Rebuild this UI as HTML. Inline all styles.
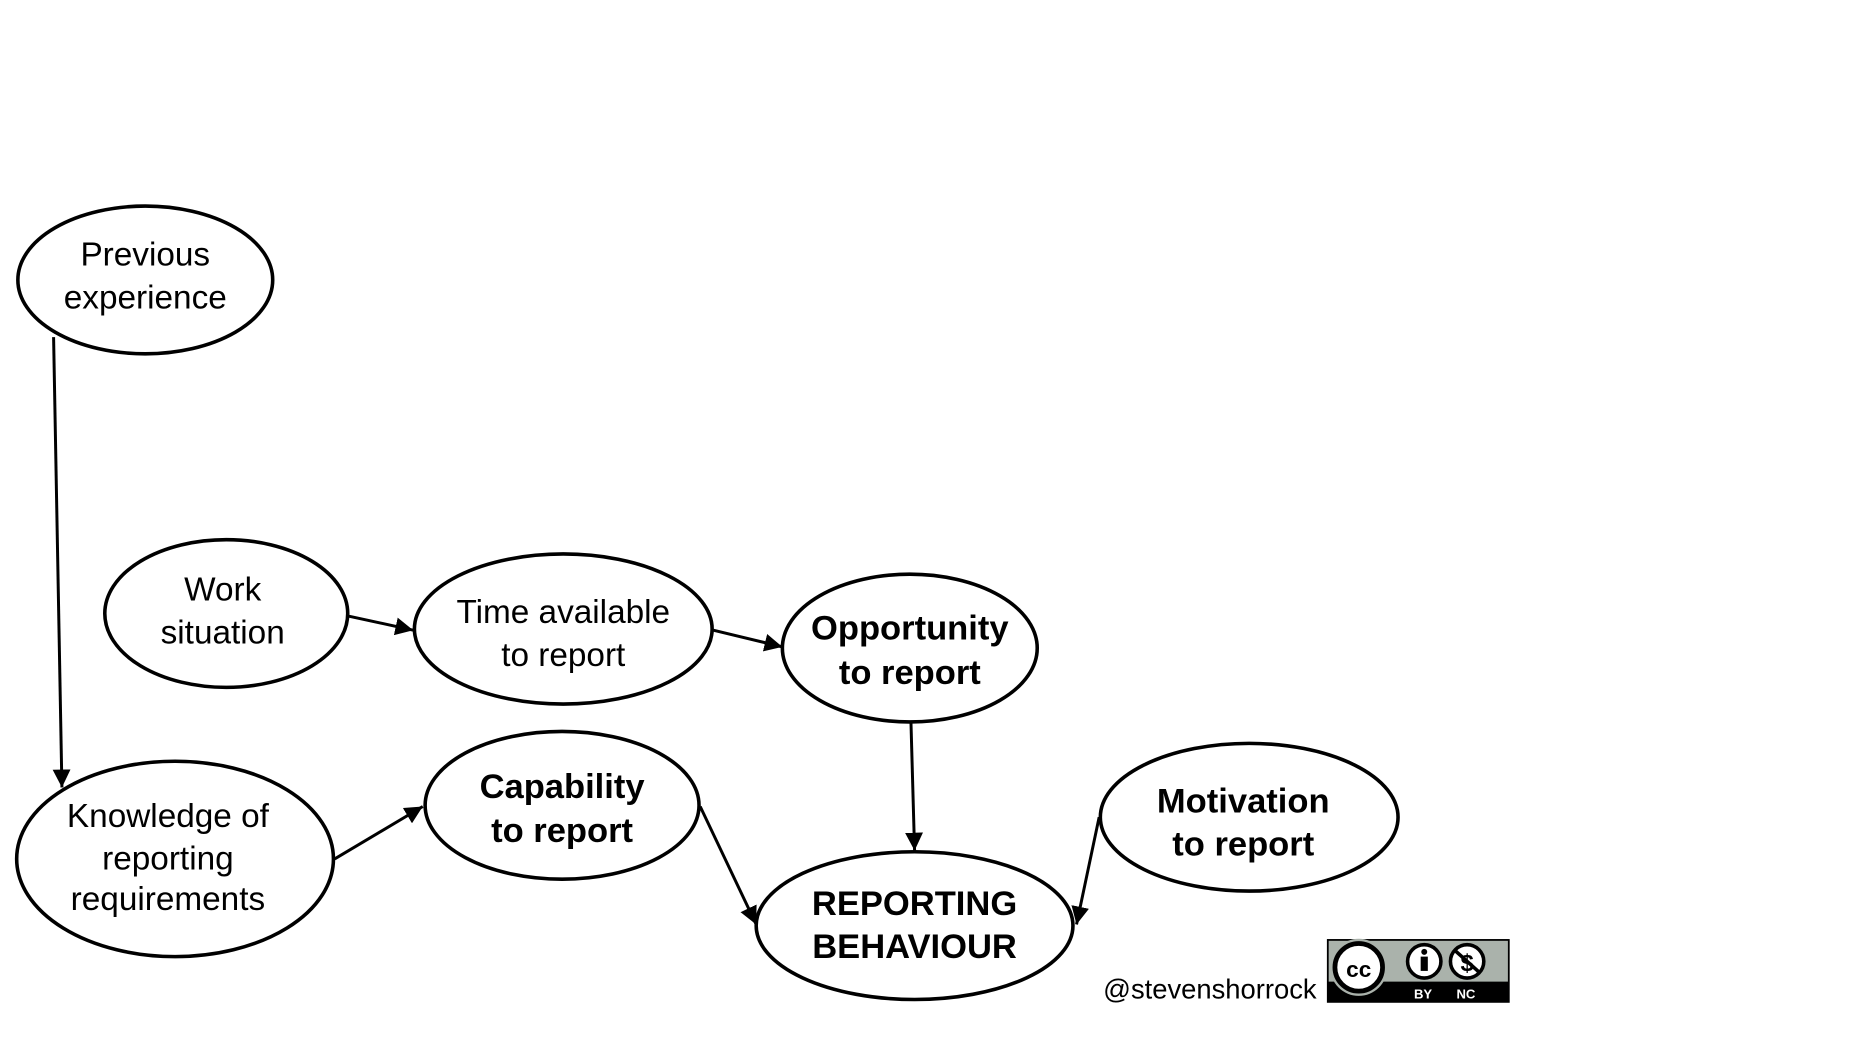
<!DOCTYPE html>
<html><head><meta charset="utf-8"><style>
html,body{margin:0;padding:0;background:#fff;width:1872px;height:1040px;overflow:hidden}
svg{display:block}
text{font-family:"Liberation Sans",Arial,sans-serif;fill:#000}
</style></head><body>
<svg width="1872" height="1040" viewBox="0 0 1572 873" preserveAspectRatio="none" xmlns="http://www.w3.org/2000/svg">
<defs><marker id="a" viewBox="0 0 10 10" refX="10" refY="5" markerWidth="6" markerHeight="6" orient="auto" markerUnits="strokeWidth"><path d="M0,0 L10,5 L0,10 z" fill="#000"/></marker></defs>
<g transform="translate(2,1)">
<g fill="#fff" stroke="#000" stroke-width="3">
<ellipse cx="120" cy="234" rx="107" ry="62"/>
<ellipse cx="188" cy="514" rx="102" ry="62"/>
<ellipse cx="471" cy="527" rx="125" ry="63"/>
<ellipse cx="762" cy="543" rx="107" ry="62"/>
<ellipse cx="145" cy="720" rx="133" ry="82"/>
<ellipse cx="470" cy="675" rx="115" ry="62"/>
<ellipse cx="766" cy="776" rx="133" ry="62"/>
<ellipse cx="1047" cy="685" rx="125" ry="62"/>
</g>
<g stroke="#000" stroke-width="2.5" marker-end="url(#a)">
<line x1="43" y1="282" x2="50" y2="660"/>
<line x1="290" y1="516" x2="345" y2="528"/>
<line x1="597" y1="528" x2="655" y2="542"/>
<line x1="763" y1="606" x2="766" y2="713"/>
<line x1="279" y1="720" x2="353" y2="676"/>
<line x1="586" y1="676" x2="633" y2="775"/>
<line x1="921" y1="685" x2="902" y2="775"/>
</g>
<g font-size="28" text-anchor="middle">
<text x="120" y="222">Previous</text><text x="120" y="258">experience</text>
<text x="185" y="503">Work</text><text x="185" y="539">situation</text>
<text x="471" y="522">Time available</text><text x="471" y="558">to report</text>
<text x="139" y="693">Knowledge of</text><text x="139" y="729">reporting</text><text x="139" y="763">requirements</text>
</g>
<g font-size="29" font-weight="bold" text-anchor="middle">
<text x="762" y="536">Opportunity</text><text x="762" y="573">to report</text>
<text x="470" y="669">Capability</text><text x="470" y="706">to report</text>
<text x="766" y="767">REPORTING</text><text x="766" y="803">BEHAVIOUR</text>
<text x="1042" y="681">Motivation</text><text x="1042" y="717">to report</text>
</g>
<text x="1014" y="837" font-size="23" text-anchor="middle">@stevenshorrock</text>
<g>
<rect x="1113" y="788" width="152" height="52" fill="#aab2ab" stroke="#000" stroke-width="1.5"/>
<rect x="1113" y="823" width="152" height="17" fill="#000"/>
<circle cx="1139" cy="811" r="24" fill="#aab2ab"/>
<circle cx="1139" cy="811" r="20" fill="#fff" stroke="#000" stroke-width="4"/>
<text x="1139" y="819" font-size="19" font-weight="bold" text-anchor="middle">cc</text>
<circle cx="1194" cy="806" r="14" fill="#fff" stroke="#000" stroke-width="3"/>
<circle cx="1194" cy="798" r="2.5" fill="#000"/>
<rect x="1191" y="802" width="6" height="12" fill="#000"/>
<circle cx="1230" cy="806" r="14" fill="#fff" stroke="#000" stroke-width="3"/>
<text x="1230" y="814" font-size="20" font-weight="bold" text-anchor="middle">$</text>
<line x1="1220" y1="797" x2="1240" y2="815" stroke="#000" stroke-width="3"/>
<text x="1193" y="837" font-size="11" font-weight="bold" text-anchor="middle" style="fill:#fff">BY</text>
<text x="1229" y="837" font-size="11" font-weight="bold" text-anchor="middle" style="fill:#fff">NC</text>
</g>
</g>
</svg>
</body></html>
